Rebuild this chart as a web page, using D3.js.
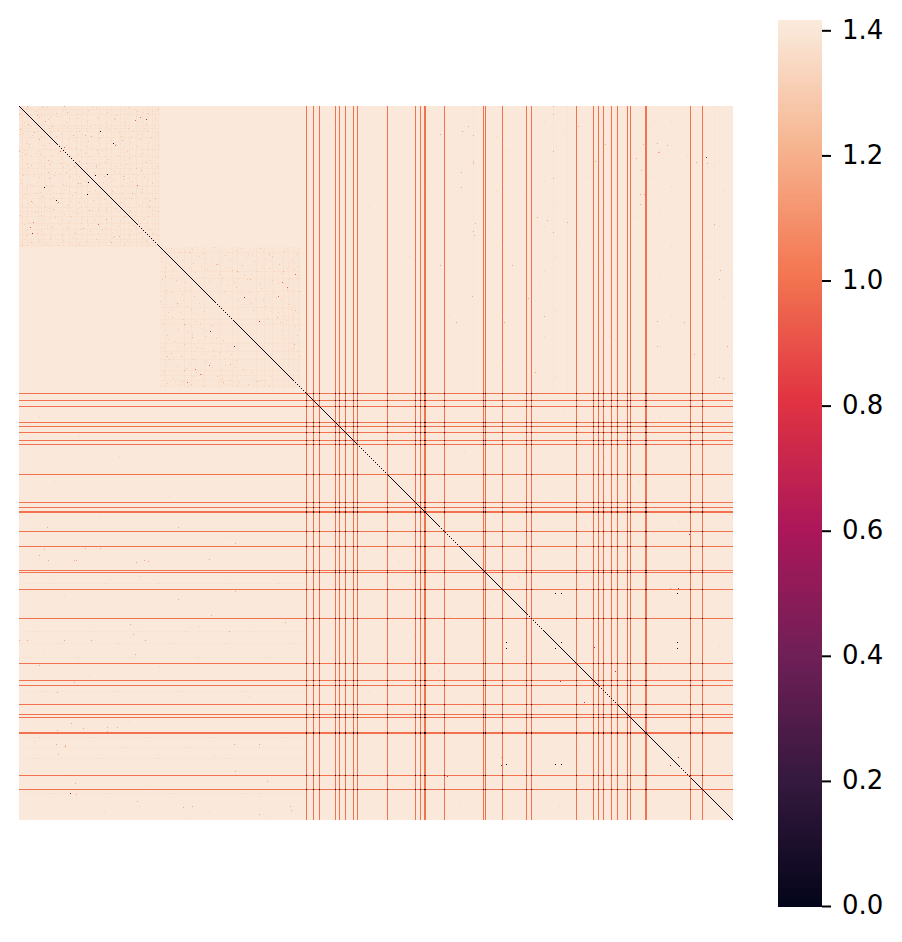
<!DOCTYPE html>
<html>
<head>
<meta charset="utf-8">
<script src="https://cdn.jsdelivr.net/npm/d3@7"></script>
<style>
html,body{margin:0;padding:0;background:#fff;}
svg{display:block;}
text{font-family:"DejaVu Sans",sans-serif;}
</style>
</head>
<body>
<svg id="chart" width="902" height="942"></svg>
<script>
// ---- data: cell indices (matrix is 714 x 714) ----
const cellCount = 714;
const valueMax = 1.4165;
const tickValues = [0.0,0.2,0.4,0.6,0.8,1.0,1.2,1.4];
const rocketStops = ["#03051a","#35193e","#701f57","#ad1759","#e13342","#f37651","#f6b48f","#faebdd"];

const baseValue = 1.41;
const blockValue = 1.398;
const lineValue = 1.0;
const crossValue = 0.03;
const blockSpans = [[0,141],[141,282]];

const colLines = [287,294,300,316,320,326,334,338,368,396,401,405,406,425,464,466,483,507,512,557,574,579,584,592,598,608,611,626,627,671,683];
const rowLines = [287,294,300,316,320,326,334,338,368,396,401,405,406,425,440,464,466,483,512,557,574,579,598,608,611,626,627,669,683];

// stretches of the diagonal that come out dotted in the picture
const dottedDiagonal = [[38,55],[118,138],[196,213],[274,286],[339,368],[420,440],[508,523],[579,598],[661,671]];

const block1Bands = [3,8,19,22,25,31,43,50,57,62,68,80,87,92,101,105,110,117,123,128,133,136,139];
const block2Bands = [146,165,172,185,201,213,218,237,245,253,264,269,274,279];
const offRowBands = [477,525,537,551,585,631,641,652,687];
const offColBands = [454,534,548,622,695];

const blackCells = [[81,25],[94,37],[76,69],[88,68],[536,487],[542,487],[658,487],[542,536],[658,536],[658,542]];
const crimsonCells = [[127,13],[225,191],[240,215],[659,482],[659,651],[575,541],[596,565],[428,670],[51,687]];
const redCells = [[45,41],[116,14],[121,11],[118,79],[96,39],[263,176],[268,181],[259,190],[276,168]];
const orangeCells = [
 [8,0],[45,0],[23,1],[33,20],[48,6],[72,30],[95,12],[60,55],[130,100],[122,64],[104,70],[136,92],[18,9],[26,15],[54,29],[66,47],[113,87],[77,59],[29,66],[34,103],
 [170,146],[218,165],[264,165],[197,158],[231,173],[250,148],[276,204],[258,211],[275,238],
 [534,8],[534,45],[534,72],[639,46],[640,46],[442,81],[443,25],[449,20],[454,29],[454,57],[454,55],[454,125],[455,129],[456,117],[576,55],[624,38],[622,64],[621,98],[625,88],[621,88],[701,164],[695,118],[493,159],[453,190],[437,216],[485,216],[638,215],[665,216],[638,240],[675,248],[528,114],[534,126],[548,116],[518,111],[688,57],[677,56],[442,66],[421,28],[421,159],[525,210],[516,266],[700,271],[708,240],
 [534,0],[586,38],[638,37],[648,39],[509,192],[700,173],[704,272],[617,52],[559,20],[651,482]
];
const mediumCells = [
 [7,2],[16,5],[28,1],[37,7],[46,3],[58,8],[69,4],[77,2],[88,6],[97,9],[109,1],[118,5],[129,7],[138,3],[20,11],[29,13],[38,10],[47,16],[59,12],[68,15],[78,11],[87,17],[96,13],[106,16],[117,10],[127,18],[136,12],
 [30,22],[39,24],[48,21],[60,25],[71,20],[79,27],[90,23],[100,26],[109,22],[119,28],[128,24],[138,27],[37,30],[49,33],[58,31],[69,35],[80,32],[91,34],[102,30],[111,36],[121,33],[132,31],
 [47,39],[57,42],[67,40],[78,44],[87,41],[97,38],[108,45],[118,40],[129,43],[139,39],[59,48],[70,50],[79,47],[89,53],[99,49],[110,52],[121,48],[131,54],[67,57],[77,61],[86,56],[96,60],[107,58],[117,62],[127,56],[138,60],
 [75,66],[85,70],[95,65],[104,73],[114,68],[125,71],[135,67],[84,76],[94,74],[103,79],[113,75],[123,83],[133,77],[93,85],[103,87],[112,92],[122,86],[131,94],[102,96],[111,104],[120,99],[130,95],[110,106],[119,114],[129,110],[138,105],[121,117],[131,123],[134,127],
 [152,142],[161,146],[173,143],[184,147],[195,141],[206,149],[217,144],[229,148],[241,142],[253,150],[265,145],[277,148],[163,154],[174,157],[186,152],[199,158],[211,153],[223,159],[235,155],[247,152],[260,158],[272,154],[176,166],[188,163],[200,168],[213,164],[225,169],[238,165],[250,162],[262,167],[275,163],[190,175],[203,172],[215,176],[228,173],[241,178],[253,174],[266,177],[278,172],[205,185],[217,181],[230,186],[242,182],[255,187],[268,183],[280,185],[219,193],[232,197],[244,194],[257,191],[270,198],[234,204],[246,200],[259,206],[272,203],[248,212],[261,216],[274,211],[263,224],[276,220],[266,232],[278,229],[274,242],[280,250]
];
const faintCells = [
 [4,1],[11,2],[19,3],[27,4],[35,2],[44,5],[53,3],[64,6],[73,1],[82,7],[90,4],[99,2],[107,8],[115,3],[124,6],[133,5],[139,2],[12,8],[22,9],[31,11],[41,10],[50,12],[61,9],[70,14],[79,13],[89,11],[98,15],[108,12],[119,16],[128,10],[137,14],
 [24,18],[34,17],[45,20],[56,19],[67,22],[76,18],[86,21],[96,23],[105,19],[114,24],[125,22],[135,20],[32,26],[42,27],[52,25],[63,28],[74,26],[84,29],[93,31],[103,27],[112,30],[122,28],[131,32],[139,29],[43,35],[55,33],[66,36],[78,34],[88,37],[99,35],[110,38],[120,33],[130,36],
 [52,42],[61,44],[72,41],[83,45],[92,43],[101,46],[113,42],[124,47],[134,44],[63,51],[74,53],[85,50],[95,52],[106,54],[116,49],[126,55],[137,51],[70,60],[81,58],[91,62],[102,59],[112,63],[123,61],[132,57],[80,68],[90,71],[100,67],[110,72],[119,69],[129,73],[139,66],[88,78],[98,81],[108,77],[117,82],[127,79],[136,84],[97,89],[107,91],[116,88],[126,93],[134,90],[106,99],[115,101],[124,97],[133,103],[116,109],[125,112],[134,108],[126,120],[136,118],[138,129],
 [147,142],[155,143],[166,145],[176,141],[187,148],[198,144],[209,146],[221,142],[233,149],[244,145],[256,147],[268,143],[279,146],[158,151],[169,153],[180,150],[192,156],[204,152],[216,155],[228,151],[240,157],[252,154],[264,150],[276,156],[170,162],[182,160],[194,164],[206,161],[219,166],[231,163],[243,159],[255,165],[267,162],[278,160],[183,171],[195,169],[207,174],[220,172],[232,168],[245,175],[257,170],[270,173],[280,169],[197,180],[209,178],[222,183],[234,179],[247,182],[259,177],[272,184],[211,190],[224,187],[236,192],[248,188],[261,193],[274,186],[226,198],[238,201],[250,196],[263,202],[276,199],[240,208],[252,205],[265,210],[278,207],[254,217],[267,214],[280,219],[269,226],[281,223],[272,236],[279,245],[270,252],
 [310,20],[330,60],[350,100],[375,35],[390,150],[410,80],[430,210],[465,15],[470,120],[490,45],[505,90],[520,180],[545,25],[560,140],[570,70],[590,230],[615,110],[635,15],[650,195],[668,50],[680,130],[690,240],[705,85],[712,170],
 [477,30],[477,85],[477,140],[477,210],[477,260],[525,15],[525,75],[525,120],[525,165],[525,230],[537,40],[537,100],[537,150],[537,205],[537,270],[551,10],[551,60],[551,115],[551,180],[551,250],[585,25],[585,95],[585,160],[585,225],[631,20],[631,70],[631,130],[631,195],[631,265],[641,45],[641,105],[641,170],[641,240],[652,15],[652,80],[652,140],[652,210],[687,35],[687,90],[687,150],[687,225],[700,55],[700,120],[705,190],[710,250],
 [430,300],[445,345],[455,380],[475,410],[495,330],[510,430],[530,395],[545,305],[565,420],[585,350],[600,450],[620,375],[640,310],[660,415],[675,360],[695,440],[705,325],[500,470],[550,505],[600,520],[650,490],[700,540],[670,590],[640,560],[690,610]
];

// ---- scales ----
const x = d3.scaleBand().domain(d3.range(cellCount)).range([19,733]);
const y = d3.scaleBand().domain(d3.range(cellCount)).range([106,820]);
const rocket = d3.scaleLinear()
  .domain(rocketStops.map((_,i)=> valueMax*i/(rocketStops.length-1)))
  .range(rocketStops).clamp(true);
const barY = d3.scaleLinear().domain([0,valueMax]).range([906,20]);

const svg = d3.select("#chart");
const heat = svg.append("g").attr("shape-rendering","crispEdges");
const span = (a,b)=> x(b-1)+x.bandwidth()-x(a);

// background
heat.append("rect").attr("x",x(0)).attr("y",y(0)).attr("width",span(0,cellCount)).attr("height",span(0,cellCount)).attr("fill",rocket(baseValue));

// off-block faint bands
heat.selectAll(".offr").data(offRowBands).join("rect")
  .attr("x",x(0)).attr("y",d=>y(d)).attr("width",span(0,287)).attr("height",y.bandwidth())
  .attr("fill",rocket(1.36)).attr("fill-opacity",0.25);
heat.selectAll(".offc").data(offColBands).join("rect")
  .attr("x",d=>x(d)).attr("y",y(0)).attr("width",x.bandwidth()).attr("height",span(0,287))
  .attr("fill",rocket(1.36)).attr("fill-opacity",0.25);

// blocks
heat.selectAll(".block").data(blockSpans).join("rect")
  .attr("x",d=>x(d[0])).attr("y",d=>y(d[0]))
  .attr("width",d=>span(d[0],d[1])).attr("height",d=>span(d[0],d[1]))
  .attr("fill",rocket(blockValue));
[[block1Bands,blockSpans[0]],[block2Bands,blockSpans[1]]].forEach(([bands,s])=>{
  heat.append("g").selectAll("rect").data(bands).join("rect")
    .attr("x",d=>x(d)).attr("y",y(s[0])).attr("width",x.bandwidth()).attr("height",span(s[0],s[1]))
    .attr("fill",rocket(1.33)).attr("fill-opacity",0.22);
  heat.append("g").selectAll("rect").data(bands).join("rect")
    .attr("x",x(s[0])).attr("y",d=>y(d)).attr("width",span(s[0],s[1])).attr("height",y.bandwidth())
    .attr("fill",rocket(1.33)).attr("fill-opacity",0.22);
});

// isolated cells (the matrix is symmetric, so each pair is drawn twice)
function cells(list,value){
  const both = list.flatMap(([a,b])=>[[a,b],[b,a]]);
  heat.append("g").selectAll("rect").data(both).join("rect")
    .attr("x",d=>x(d[0])).attr("y",d=>y(d[1]))
    .attr("width",x.bandwidth()).attr("height",y.bandwidth())
    .attr("fill",rocket(value));
}
cells(faintCells,1.33);
cells(mediumCells,1.27);
cells(orangeCells,1.17);
cells(redCells,0.95);
cells(crimsonCells,0.65);
cells(blackCells,0.05);

// red lines
heat.append("g").selectAll("rect").data(colLines).join("rect")
  .attr("x",d=>x(d)).attr("y",y(0)).attr("width",x.bandwidth()).attr("height",span(0,cellCount))
  .attr("fill",rocket(lineValue));
heat.append("g").selectAll("rect").data(rowLines).join("rect")
  .attr("x",x(0)).attr("y",d=>y(d)).attr("width",span(0,cellCount)).attr("height",y.bandwidth())
  .attr("fill",rocket(lineValue));
// crossings
const crossings = colLines.flatMap(c=>rowLines.map(r=>[c,r]));
heat.append("g").selectAll("rect").data(crossings).join("rect")
  .attr("x",d=>x(d[0])).attr("y",d=>y(d[1]))
  .attr("width",x.bandwidth()).attr("height",y.bandwidth())
  .attr("fill",rocket(crossValue));
// diagonal
const diag = d3.range(cellCount).filter(i=>!dottedDiagonal.some(([a,b])=> i>=a && i<=b && i%2));
heat.append("g").selectAll("rect").data(diag).join("rect")
  .attr("x",d=>x(d)).attr("y",d=>y(d))
  .attr("width",x.bandwidth()).attr("height",y.bandwidth())
  .attr("fill",rocket(0));

// colourbar
const cbar = svg.append("g").attr("shape-rendering","crispEdges");
cbar.selectAll("rect").data(d3.range(256)).join("rect")
  .attr("x",778).attr("width",44)
  .attr("y",d=>barY((d+1)/256*valueMax))
  .attr("height",d=>barY(d/256*valueMax)-barY((d+1)/256*valueMax)+0.6)
  .attr("fill",d=>rocket((d+0.5)/256*valueMax));

const axis = d3.axisRight(barY).tickValues(tickValues).tickFormat(d3.format(".1f")).tickSize(9).tickPadding(11);
const ag = svg.append("g").attr("transform","translate(822,0)").call(axis);
ag.select(".domain").remove();
ag.selectAll(".tick line").attr("stroke","#000").attr("stroke-width",2);
ag.selectAll(".tick text").attr("fill","#000").attr("font-size",26).attr("dy","0.3em").attr("font-family","'DejaVu Sans',sans-serif");
</script>
</body>
</html>
